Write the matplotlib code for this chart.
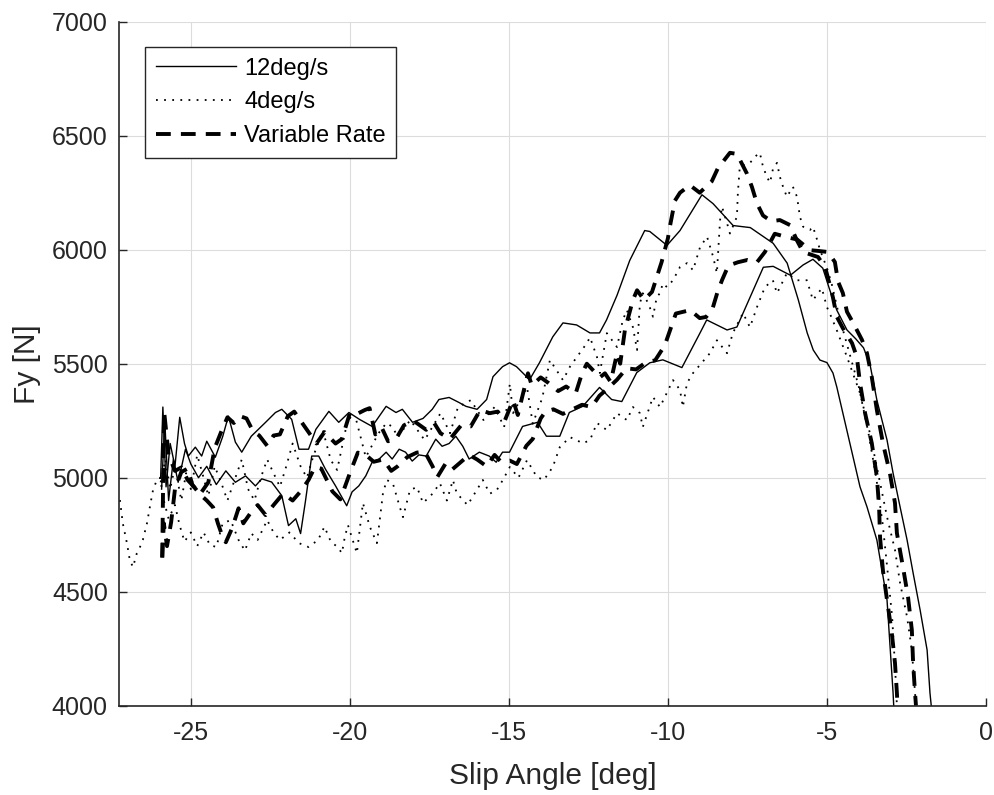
#import matplotlib libary
import matplotlib.pyplot as plt

plt.rcParams['font.family'] = ['Liberation Sans', 'DejaVu Sans']
plt.rcParams['axes.unicode_minus'] = False

#12deg/s - upper branch
s12_up_x = [-25.95, -25.88, -25.78, -25.65, -25.5, -25.35, -25.2, -25.08, -24.86, -24.66, -24.5, -24.23,
            -24.0, -23.82, -23.6, -23.4, -23.1, -22.65, -22.34, -22.14, -21.83, -21.6, -21.3, -21.07,
            -20.66, -20.35, -20.03, -19.7, -19.3, -18.86, -18.55, -18.35, -18.03, -17.7, -17.41, -17.2,
            -16.88, -16.57, -16.35, -16.0, -15.7, -15.5, -15.2, -14.98, -14.76, -14.35, -14.04, -13.62,
            -13.3, -12.87, -12.45, -12.15, -11.93, -11.6, -11.2, -10.73, -10.57, -10.03, -9.62, -8.93,
            -8.58, -7.95, -7.41, -6.69, -6.25, -5.9, -5.62, -5.43, -5.22, -5.0, -4.81, -4.69, -3.96,
            -3.74, -3.43, -3.11, -2.92, -2.9]
s12_up_y = [5000, 5310, 4960, 5150, 5050, 5265, 5150, 5095, 5134, 5095, 5160, 5090,
            5180, 5270, 5156, 5112, 5182, 5243, 5286, 5300, 5256, 5125, 5125, 5212,
            5291, 5243, 5286, 5256, 5225, 5313, 5286, 5300, 5243, 5260, 5300, 5343,
            5352, 5330, 5313, 5300, 5343, 5443, 5487, 5504, 5487, 5430, 5504, 5618,
            5679, 5670, 5635, 5635, 5692, 5800, 5953, 6084, 6080, 6019, 6084, 6241,
            6202, 6106, 6097, 6028, 5941, 5780, 5635, 5560, 5516, 5505, 5459, 5398, 4960,
            4872, 4727, 4463, 4056, 4000]

#12deg/s - lower branch
s12_lo_x = [-25.92, -25.82, -25.7, -25.55, -25.4, -25.17, -25.0, -24.76, -24.5, -24.2, -23.9, -23.6,
            -23.28, -22.97, -22.77, -22.46, -22.14, -21.93, -21.7, -21.55, -21.4, -21.2, -20.98, -20.77,
            -20.45, -20.1, -19.93, -19.72, -19.5, -19.3, -19.08, -18.86, -18.67, -18.45, -18.25, -18.04,
            -17.83, -17.6, -17.3, -17.1, -16.88, -16.67, -16.45, -16.25, -15.93, -15.62, -15.4, -15.2,
            -14.98, -14.57, -14.1, -13.82, -13.4, -13.1, -12.68, -12.15, -11.77, -11.45, -10.98, -10.57,
            -10.16, -9.56, -8.99, -8.78, -8.14, -7.83, -7.0, -6.69, -6.15, -5.75, -5.44, -5.13, -4.91,
            -4.69, -4.37, -4.1, -3.85, -3.65, -3.43, -3.11, -2.92, -2.7, -2.48, -2.29, -2.07, -1.85,
            -1.76, -1.72]
s12_lo_y = [4950, 5250, 4900, 5080, 4980, 5125, 5060, 5000, 5050, 4970, 5030, 4980,
            5008, 4964, 4995, 4981, 4921, 4790, 4820, 4755, 4894, 5095, 5095, 5038,
            4964, 4877, 4938, 4964, 5008, 5068, 5082, 5112, 5082, 5125, 5112, 5073,
            5100, 5095, 5169, 5138, 5150, 5182, 5138, 5082, 5112, 5095, 5068, 5112,
            5112, 5225, 5243, 5182, 5182, 5286, 5313, 5396, 5343, 5334, 5461, 5504,
            5517, 5483, 5635, 5692, 5648, 5661, 5923, 5927, 5888, 5933, 5958, 5919, 5823,
            5735, 5648, 5610, 5570, 5500, 5341, 5165, 5020, 4872, 4727, 4582, 4420, 4244,
            4056, 4000]

#4deg/s - upper branch
d4_up_x = [-25.95, -25.8, -25.65, -25.5, -25.3, -25.15, -25.0, -24.8, -24.6, -24.45, -24.25, -24.05,
           -23.85, -23.6, -23.4, -23.2, -23.0, -22.8, -22.6, -22.4, -22.2, -22.0, -21.8, -21.55,
           -21.35, -21.16, -20.85, -20.6, -20.4, -20.05, -19.8, -19.5, -19.1, -18.85, -18.65, -18.5,
           -18.1, -17.65, -17.15, -16.85, -16.6, -16.2, -15.8, -15.45, -15.15, -14.97, -14.87, -14.43,
           -14.25, -13.95, -13.71, -13.3, -13.08, -12.55, -12.45, -12.23, -12.14, -11.92, -11.6, -11.42,
           -11.29, -11.1, -10.97, -10.88, -10.79, -10.6, -10.47, -10.35, -10.25, -10.16, -10.03, -9.84,
           -9.62, -9.4, -9.21, -8.99, -8.77, -8.58, -8.46, -8.36, -8.3, -8.14, -8.05, -7.83,
           -7.8, -7.74, -7.42, -7.2, -7.11, -7.01, -6.89, -6.79, -6.7, -6.57, -6.48, -6.38,
           -6.26, -6.07, -5.94, -5.85, -5.75, -5.53, -5.44, -5.31, -5.22, -5.0, -4.85, -4.6,
           -4.3, -4.0, -3.7, -3.45, -3.25, -3.1, -2.95, -2.85, -2.8]
d4_up_y = [4980, 5080, 4950, 5050, 4900, 5020, 4950, 5100, 5000, 4920, 5050, 4980,
           4900, 5000, 5080, 4950, 4900, 5000, 5080, 5020, 4960, 5050, 5150, 5050,
           5000, 5090, 5209, 5077, 5034, 5266, 5253, 5090, 5195, 5240, 5222, 5178,
           5253, 5165, 5283, 5195, 5310, 5340, 5253, 5310, 5222, 5412, 5283, 5397,
           5237, 5350, 5516, 5428, 5487, 5590, 5616, 5529, 5459, 5634, 5573, 5691,
           5735, 5660, 5560, 5765, 5809, 5760, 5706, 5793, 5809, 5852, 5836, 5866,
           5924, 5941, 5910, 6011, 6057, 5970, 5897, 6130, 6189, 6116, 6071, 6145,
           6250, 6364, 6381, 6416, 6425, 6364, 6320, 6294, 6352, 6381, 6320, 6276,
           6232, 6276, 6232, 6145, 6101, 6087, 6101, 6044, 6000, 5920, 5850, 5700,
           5550, 5400, 5200, 5000, 4800, 4600, 4390, 4150, 4000]

#4deg/s - lower branch
d4_lo_x = [-27.23, -27.14, -27.01, -26.92, -26.82, -26.7, -26.6, -26.51, -26.38, -26.29, -26.19, -26.07,
           -25.97, -25.85, -25.7, -25.5, -25.35, -25.2, -25.0, -24.8, -24.6, -24.4, -24.2, -24.0,
           -23.75, -23.5, -23.3, -23.1, -22.9, -22.6, -22.4, -22.2, -21.9, -21.6, -21.3, -21.0,
           -20.8, -20.6, -20.38, -20.25, -20.16, -20.06, -19.78, -19.59, -19.37, -19.15, -19.06, -18.96,
           -18.84, -18.65, -18.43, -18.33, -18.11, -17.89, -17.7, -17.4, -17.17, -16.95, -16.76, -16.64,
           -16.3, -16.01, -15.82, -15.6, -15.38, -15.19, -14.97, -14.7, -14.43, -14.12, -13.9, -13.62,
           -13.4, -13.08, -12.67, -12.45, -12.23, -11.92, -11.6, -11.29, -11.1, -10.88, -10.79, -10.47,
           -10.25, -9.84, -9.62, -9.53, -9.4, -9.21, -8.68, -8.46, -8.14, -7.96, -7.64, -7.42,
           -7.2, -6.95, -6.7, -6.57, -6.26, -5.94, -5.63, -5.44, -5.16, -5.0, -4.91, -4.69,
           -4.37, -3.96, -3.65, -3.43, -3.11, -2.86, -2.7, -2.48, -2.33, -2.23, -2.2]
d4_lo_y = [4902, 4800, 4713, 4639, 4608, 4668, 4696, 4727, 4800, 4871, 4946, 4990,
           5000, 4900, 4820, 4880, 4790, 4720, 4760, 4700, 4760, 4705, 4696, 4800,
           4814, 4727, 4680, 4756, 4727, 4814, 4760, 4727, 4760, 4713, 4696, 4727,
           4785, 4720, 4695, 4669, 4740, 4792, 4669, 4889, 4784, 4713, 4815, 4932,
           4990, 4976, 4871, 4827, 4946, 4959, 4889, 4930, 4976, 4900, 4990, 4932,
           4880, 4946, 4990, 4930, 4946, 4990, 5047, 5000, 5077, 5003, 4990, 5047,
           5134, 5178, 5151, 5165, 5240, 5209, 5283, 5253, 5310, 5283, 5222, 5354,
           5310, 5428, 5385, 5310, 5415, 5459, 5546, 5603, 5546, 5634, 5722, 5660,
           5748, 5836, 5866, 5809, 5897, 5866, 5866, 5779, 5831, 5748, 5721, 5647,
           5530, 5371, 5196, 5047, 4828, 4683, 4538, 4389, 4244, 4056, 4000]

#Variable Rate - upper branch
var_up_x = [-25.9, -25.87, -25.84, -25.7, -25.5, -25.3, -25.1, -24.9, -24.7, -24.45, -24.25, -24.05,
            -23.85, -23.65, -23.45, -23.25, -23.05, -22.85, -22.6, -22.4, -22.2, -21.95, -21.75, -21.55,
            -21.3, -21.05, -20.8, -20.45, -20.25, -20.0, -19.84, -19.53, -19.38, -19.2, -19.0, -18.8,
            -18.55, -18.3, -18.0, -17.8, -17.6, -17.35, -17.15, -16.85, -16.5, -16.2, -15.9, -15.6,
            -15.35, -15.13, -14.87, -14.72, -14.4, -14.28, -14.0, -13.75, -13.45, -13.2, -12.9, -12.7,
            -12.55, -12.14, -11.98, -11.8, -11.6, -11.5, -11.35, -11.1, -10.97, -10.75, -10.5, -10.2,
            -10.0, -9.94, -9.78, -9.62, -9.31, -9.0, -8.62, -8.43, -8.05, -7.83, -7.52, -7.36,
            -7.2, -7.01, -6.75, -6.48, -6.16, -5.94, -5.75, -5.28, -5.06, -4.91, -4.81, -4.69,
            -4.5, -4.21, -4.06, -3.96, -3.8, -3.59, -3.43, -3.36, -3.33, -3.24, -3.11, -2.96,
            -2.86, -2.8, -2.78]
var_up_y = [4650, 5000, 5290, 5100, 5030, 5045, 4990, 4960, 4930, 4980, 5130, 5200,
            5265, 5240, 5270, 5260, 5205, 5185, 5140, 5185, 5190, 5270, 5290, 5250,
            5200, 5150, 5200, 5150, 5170, 5283, 5275, 5297, 5305, 5190, 5220, 5160,
            5170, 5230, 5250, 5230, 5210, 5240, 5195, 5170, 5230, 5225, 5297, 5283,
            5290, 5250, 5340, 5275, 5458, 5405, 5440, 5415, 5380, 5400, 5370, 5458,
            5500, 5440, 5458, 5420, 5545, 5500, 5650, 5780, 5822, 5780, 5815, 5945,
            6050, 6100, 6215, 6250, 6283, 6250, 6300, 6357, 6425, 6420, 6335, 6276,
            6203, 6150, 6125, 6130, 6108, 6040, 5990, 5968, 5925, 5846, 5790, 5706,
            5656, 5590, 5530, 5415, 5283, 5152, 5004, 4872, 4740, 4595, 4463, 4319,
            4187, 4056, 4000]

#Variable Rate - lower branch
var_lo_x = [-25.9, -25.85, -25.75, -25.62, -25.5, -25.3, -25.1, -24.95, -24.7, -24.5, -24.3, -24.15,
            -24.0, -23.9, -23.7, -23.5, -23.35, -23.1, -22.9, -22.65, -22.4, -22.1, -21.8, -21.55,
            -21.3, -21.1, -20.9, -20.55, -20.3, -20.0, -19.75, -19.5, -19.25, -18.95, -18.7, -18.5,
            -18.2, -17.9, -17.65, -17.4, -17.25, -17.0, -16.8, -16.5, -16.25, -16.0, -15.7, -15.45,
            -15.25, -14.97, -14.75, -14.45, -14.25, -14.0, -13.85, -13.6, -13.3, -13.0, -12.7, -12.4,
            -12.15, -11.9, -11.6, -11.3, -11.0, -10.7, -10.4, -10.1, -9.95, -9.75, -9.3, -9.0,
            -8.8, -8.6, -8.45, -8.3, -8.1, -7.8, -7.5, -7.2, -6.95, -6.64, -6.26, -5.94,
            -5.53, -5.3, -4.97, -4.75, -4.65, -4.5, -4.37, -4.18, -3.9, -3.74, -3.59, -3.43,
            -3.24, -3.02, -2.86, -2.8, -2.61, -2.45, -2.33, -2.29, -2.23, -2.2]
var_lo_y = [4650, 4800, 4700, 4805, 4950, 5025, 5040, 4968, 4925, 4900, 4870, 4800,
            4740, 4717, 4780, 4866, 4800, 4850, 4880, 4836, 4880, 4930, 4900, 4940,
            4990, 5047, 5040, 4940, 4905, 5020, 5110, 5100, 5070, 5080, 5030, 5050,
            5090, 5110, 5115, 5050, 5003, 5060, 5034, 5070, 5100, 5080, 5050, 5100,
            5070, 5075, 5060, 5140, 5170, 5260, 5290, 5300, 5280, 5300, 5320, 5310,
            5360, 5390, 5430, 5480, 5475, 5505, 5515, 5580, 5640, 5720, 5735, 5700,
            5705, 5740, 5810, 5866, 5930, 5945, 5955, 5945, 5990, 6070, 6055, 6045,
            5998, 5995, 5990, 5946, 5860, 5810, 5728, 5680, 5605, 5546, 5442, 5297,
            5152, 5020, 4889, 4757, 4609, 4477, 4332, 4187, 4056, 4000]

fig = plt.figure(figsize=(9.94, 7.95), dpi=100)
ax = fig.add_axes([0.1197, 0.1123, 0.8722, 0.8604])

#plot data
solid = dict(color="black", linewidth=1.0, linestyle="-")
dotted = dict(color="black", linewidth=1.3, linestyle=(0, (1, 3.5)))
dashed = dict(color="black", linewidth=2.8, linestyle=(0, (3.8, 2.6)))

ax.plot(s12_up_x, s12_up_y, label="12deg/s", **solid)
ax.plot(d4_up_x, d4_up_y, label="4deg/s", **dotted)
ax.plot(var_up_x, var_up_y, label="Variable Rate", **dashed)
ax.plot(s12_lo_x, s12_lo_y, **solid)
ax.plot(d4_lo_x, d4_lo_y, **dotted)
ax.plot(var_lo_x, var_lo_y, **dashed)

#configure X axes
ax.set_xlim(-27.26, 0)
ax.set_xticks([-25, -20, -15, -10, -5, 0])

#configure Y axes
ax.set_ylim(4000, 7000)
ax.set_yticks([4000, 4500, 5000, 5500, 6000, 6500, 7000])

#grid and box
ax.grid(True, color="#dcdcdc", linewidth=0.8)
ax.set_axisbelow(True)
for side in ["top", "right"]:
    ax.spines[side].set_visible(False)
for side in ["left", "bottom"]:
    ax.spines[side].set_color("#262626")
    ax.spines[side].set_linewidth(1.2)
ax.tick_params(direction="in", length=6, width=1.0, colors="#262626", labelsize=18)
ax.tick_params(axis="x", pad=11)
ax.tick_params(axis="y", pad=8)

#labels
ax.set_xlabel("Slip Angle [deg]", fontsize=21.5, color="#262626", labelpad=12)
ax.set_ylabel("Fy [N]", fontsize=21.5, color="#262626", labelpad=8)

#legend
leg = ax.legend(loc="upper left", bbox_to_anchor=(0.030, 0.963), borderaxespad=0,
                fontsize=17, handlelength=3.4, handletextpad=0.35, labelspacing=0.5,
                fancybox=False, framealpha=1, edgecolor="#262626", borderpad=0.45)
leg.get_frame().set_linewidth(1.0)

plt.savefig("out.png", dpi=100)
